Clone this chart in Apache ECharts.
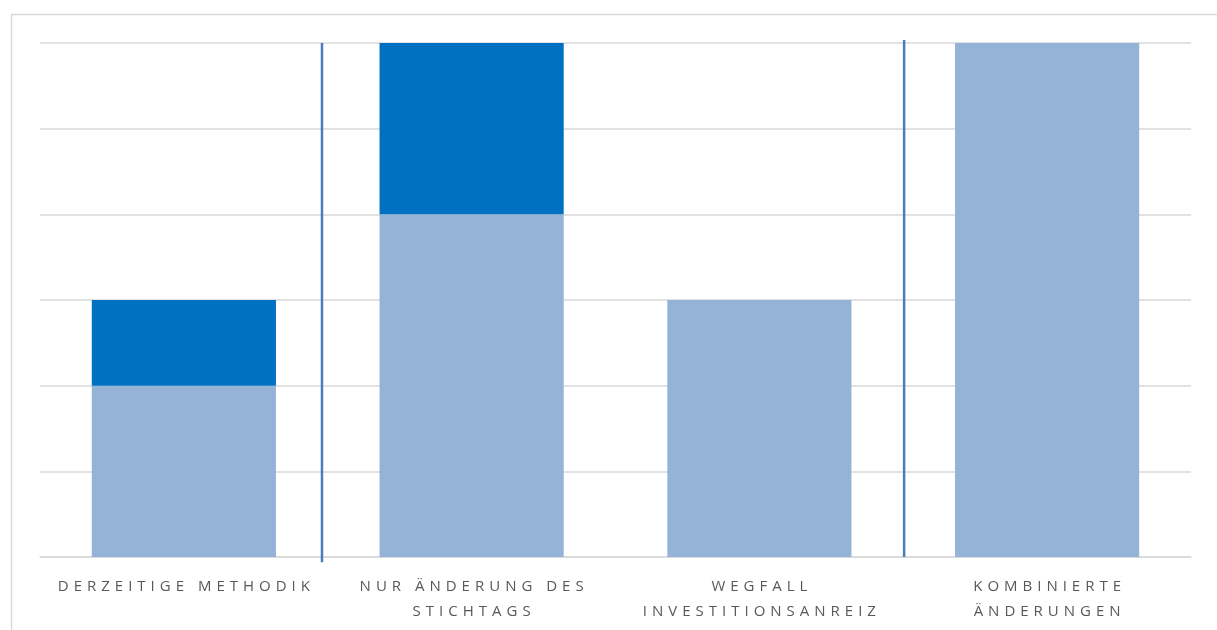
<!DOCTYPE html>
<html><head><meta charset="utf-8">
<script src="https://cdn.jsdelivr.net/npm/echarts@6/dist/echarts.min.js"></script>
<style>html,body{margin:0;padding:0;background:#fff}#c{width:1217px;height:630px}</style>
</head><body><div id="c"></div>
<script>
const categories = ["DERZEITIGE METHODIK", "NUR ÄNDERUNG DES\nSTICHTAGS", "WEGFALL\nINVESTITIONSANREIZ", "KOMBINIERTE\nÄNDERUNGEN"];
const baseValues = [2, 4, 3, 6];
const topValues = [1, 2, 0, 0];
const yTicks = [0, 1, 2, 3, 4, 5, 6];
const separatorX = [0.98, 3.003];
const separatorY = [[-0.06, 6], [0, 6.035]];

const chart = echarts.init(document.getElementById('c'), null, {renderer: 'canvas'});
const spaced = s => s.split('\n').map(l => l.split('').join('\u2004')).join('\n');
const sepSeries = separatorX.map((x, i) => ({
  type: 'line', xAxisIndex: 1, clip: false, silent: true, symbol: 'none',
  lineStyle: {color: '#4a7ebb', width: 2.5},
  data: [[x, separatorY[i][0]], [x, separatorY[i][1]]]
}));
chart.setOption({
  animation: false,
  graphic: [{type: 'rect', shape: {x: 11.5, y: 14.5, width: 1230, height: 640},
    style: {fill: 'none', stroke: '#d9d9d9', lineWidth: 1.5}, silent: true}],
  grid: {left: 40, right: 26, top: 43, bottom: 73},
  xAxis: [{
    type: 'category', data: categories,
    axisLine: {lineStyle: {color: '#d9d9d9', width: 1.5}},
    axisTick: {show: false},
    axisLabel: {formatter: v => spaced(v), color: '#595959', fontFamily: 'Open Sans',
      fontSize: 15, lineHeight: 25, margin: 17, interval: 0}
  }, {
    type: 'value', min: 0, max: 4, show: false
  }],
  yAxis: {
    type: 'value', min: yTicks[0], max: yTicks[yTicks.length - 1], interval: 1,
    axisLabel: {show: false}, axisLine: {show: false}, axisTick: {show: false},
    splitLine: {lineStyle: {color: '#d9d9d9', width: 1.5}}
  },
  series: [
    {type: 'bar', stack: 's', data: baseValues, barWidth: '64%',
      itemStyle: {color: '#95b3d7'}},
    {type: 'bar', stack: 's', data: topValues, barWidth: '64%',
      itemStyle: {color: '#0070c0'}}
  ].concat(sepSeries)
});
</script></body></html>
